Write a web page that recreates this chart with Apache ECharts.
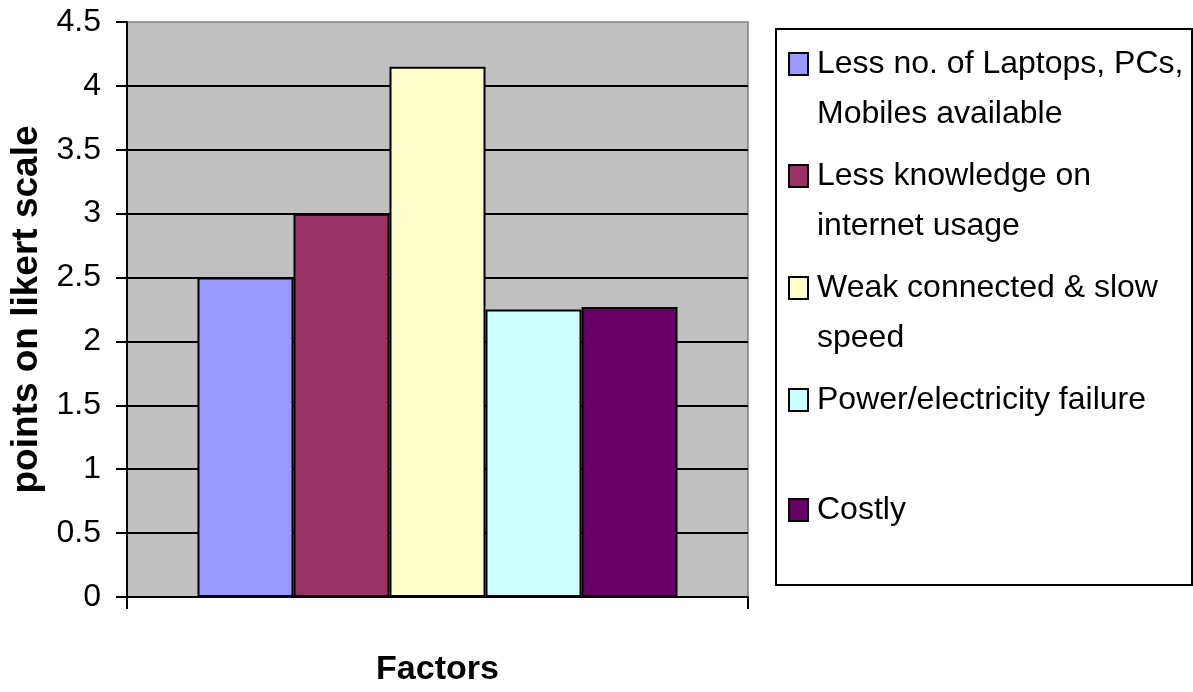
<!DOCTYPE html>
<html>
<head>
<meta charset="utf-8">
<script src="https://cdn.jsdelivr.net/npm/echarts@6/dist/echarts.min.js"></script>
<style>
  html, body { margin: 0; padding: 0; background: #ffffff; }
  #chart { width: 1193px; height: 692px; }
</style>
</head>
<body>
<div id="chart"></div>
<script>
// Survey results: mean score of each barrier to internet use
const categories = ['Factors'];
const legendLines = [
  ['Less no. of Laptops, PCs,', 'Mobiles available'],
  ['Less knowledge on', 'internet usage'],
  ['Weak connected & slow', 'speed'],
  ['Power/electricity failure'],
  ['Costly']
];
const seriesNames = legendLines.map(l => l.join(' '));
const values = [2.5, 3.0, 4.15, 2.25, 2.27];
const colors = ['#9999FF', '#993366', '#FFFFCC', '#CCFFFF', '#660066'];
const yMin = 0, yMax = 4.5, yStep = 0.5;

const FONT = '"Liberation Sans", Arial, sans-serif';
const LEGEND_LINE = 50;
const legendCenters = [64, 176, 288, 400, 510];

const chart = echarts.init(document.getElementById('chart'), null, { renderer: 'canvas' });

// one legend block per series so each entry sits at its own row
const legends = seriesNames.map((name, i) => {
  const nLines = legendLines[i].length === 2 ? 3 : 1;
  return {
    data: [name],
    orient: 'vertical',
    left: 788,
    top: legendCenters[i] - (nLines * LEGEND_LINE) / 2,
    padding: 0,
    itemWidth: 19,
    itemHeight: 22,
    icon: 'rect',
    selectedMode: false,
    itemStyle: { borderColor: '#000000', borderWidth: 2 },
    formatter: () => (legendLines[i].length === 2 ? '\n' + legendLines[i].join('\n') : legendLines[i][0]),
    textStyle: {
      fontFamily: FONT,
      fontSize: 32,
      color: '#000000',
      lineHeight: LEGEND_LINE,
      backgroundColor: 'rgba(0,0,0,0)',
      padding: [0, 0, 0, 4]
    }
  };
});

const option = {
  animation: false,
  backgroundColor: '#ffffff',
  graphic: [{
    type: 'rect',
    z: -1,
    shape: { x: 776, y: 29, width: 416, height: 556 },
    style: { fill: '#ffffff', stroke: '#000000', lineWidth: 2 }
  }],
  legend: legends,
  grid: {
    left: 126, right: 445, top: 22, bottom: 93,
    show: true,
    backgroundColor: '#C0C0C0',
    borderColor: '#808080',
    borderWidth: 1.5
  },
  xAxis: {
    type: 'category',
    data: categories,
    name: 'Factors',
    nameLocation: 'middle',
    nameGap: 56,
    nameTextStyle: { fontFamily: FONT, fontSize: 34, fontWeight: 'bold', color: '#000000' },
    axisLine: { lineStyle: { color: '#000000', width: 2 } },
    axisTick: { show: true, length: 12, lineStyle: { color: '#000000', width: 2 } },
    axisLabel: { show: false },
    splitLine: { show: false }
  },
  yAxis: {
    type: 'value',
    min: yMin, max: yMax, interval: yStep,
    name: 'points on likert scale',
    nameLocation: 'middle',
    nameRotate: 90,
    nameGap: 82,
    nameTextStyle: { fontFamily: FONT, fontSize: 37, fontWeight: 'bold', color: '#000000' },
    axisLine: { show: true, lineStyle: { color: '#000000', width: 2 } },
    axisTick: { show: true, length: 11, lineStyle: { color: '#000000', width: 2 } },
    axisLabel: {
      margin: 26,
      fontFamily: FONT, fontSize: 32, color: '#000000',
      formatter: v => String(v)
    },
    splitLine: { show: true, showMaxLine: false, lineStyle: { color: '#000000', width: 2 } }
  },
  series: seriesNames.map((name, i) => ({
    type: 'bar',
    name: name,
    data: [values[i]],
    barGap: '0%',
    barCategoryGap: '22.7%',
    itemStyle: { color: colors[i], borderColor: '#000000', borderWidth: 2 }
  }))
};

chart.setOption(option);
</script>
</body>
</html>
